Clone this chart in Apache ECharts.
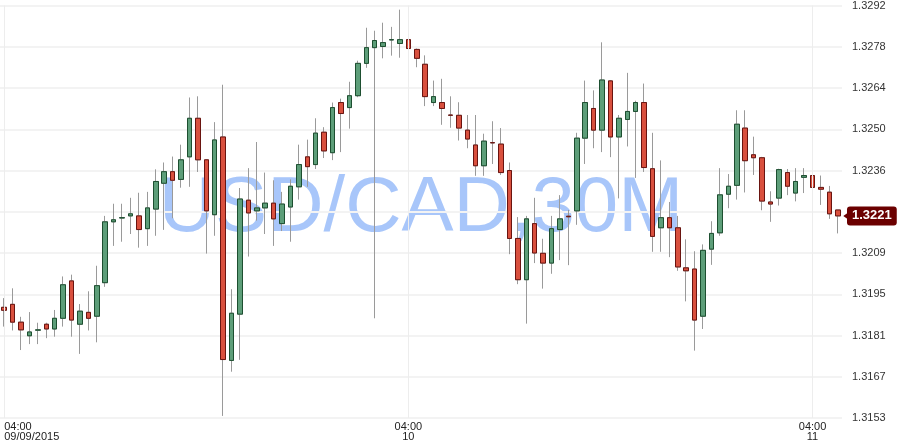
<!DOCTYPE html>
<html>
<head>
<meta charset="utf-8">
<script src="https://cdn.jsdelivr.net/npm/echarts@6/dist/echarts.min.js"></script>
<style>
html,body{margin:0;padding:0;background:#fff;}
#chart{width:900px;height:448px;}
</style>
</head>
<body>
<div id="chart"></div>
<script>
// USD/CAD 30-minute candles, starting 09/09/2015 04:00
var startTime = Date.UTC(2015, 8, 9, 4, 0);
var stepMinutes = 30;

var opens = [
1.31903,1.31913,1.31853,1.31807,1.31826,1.31846,1.31830,1.31866,1.31992,1.31846,
1.31886,1.31873,1.31986,1.32191,1.32204,1.32211,1.32211,1.32168,1.32234,1.32321,
1.32360,1.32334,1.32410,1.32540,1.32400,1.32215,1.32477,1.31724,1.31880,1.32264,
1.32228,1.32238,1.32254,1.32185,1.32241,1.32309,1.32410,1.32384,1.32493,1.32424,
1.32593,1.32576,1.32616,1.32725,1.32778,1.32782,1.32804,1.32792,1.32805,1.32772,
1.32722,1.32593,1.32593,1.32551,1.32550,1.32500,1.32450,1.32380,1.32458,1.32453,
1.32364,1.32135,1.31996,1.32185,1.32085,1.32052,1.32165,1.32210,1.32228,1.32473,
1.32573,1.32500,1.32666,1.32477,1.32536,1.32563,1.32593,1.32370,1.32171,1.32205,
1.32171,1.32036,1.32032,1.31873,1.32099,1.32154,1.32284,1.32314,1.32507,1.32417,
1.32407,1.32258,1.32271,1.32357,1.32288,1.32341,1.32347,1.32307,1.32291,1.32231
];
var closes = [
1.31893,1.31853,1.31827,1.31820,1.31827,1.31830,1.31866,1.31979,1.31860,1.31890,
1.31866,1.31976,1.32191,1.32198,1.32205,1.32218,1.32165,1.32238,1.32327,1.32360,
1.32331,1.32400,1.32540,1.32400,1.32228,1.32467,1.31727,1.31883,1.32268,1.32221,
1.32238,1.32254,1.32201,1.32251,1.32311,1.32384,1.32377,1.32490,1.32430,1.32576,
1.32556,1.32616,1.32725,1.32778,1.32802,1.32795,1.32805,1.32805,1.32775,1.32742,
1.32613,1.32613,1.32573,1.32550,1.32507,1.32470,1.32380,1.32463,1.32457,1.32357,
1.32135,1.31996,1.32201,1.32086,1.32052,1.32168,1.32201,1.32208,1.32473,1.32593,
1.32500,1.32669,1.32477,1.32540,1.32563,1.32593,1.32374,1.32142,1.32205,1.32171,
1.32039,1.32026,1.31860,1.32095,1.32152,1.32282,1.32311,1.32520,1.32397,1.32407,
1.32261,1.32251,1.32367,1.32311,1.32327,1.32347,1.32307,1.32301,1.32218,1.32211
];
var lows = [
1.31838,1.31825,1.31759,1.31779,1.31779,1.31799,1.31804,1.31838,1.31804,1.31746,
1.31825,1.31785,1.31972,1.32110,1.32124,1.32150,1.32104,1.32110,1.32144,1.32164,
1.32203,1.32306,1.32309,1.32359,1.32084,1.32144,1.31537,1.31686,1.31726,1.32074,
1.32195,1.32150,1.32110,1.32160,1.32124,1.32266,1.32309,1.32369,1.32406,1.32399,
1.32426,1.32505,1.32611,1.32710,1.31866,1.32742,1.32751,1.32744,1.32734,1.32712,
1.32581,1.32581,1.32518,1.32508,1.32465,1.32439,1.32346,1.32346,1.32386,1.32349,
1.32082,1.31981,1.31848,1.32052,1.31966,1.32016,1.32062,1.32045,1.32181,1.32386,
1.32439,1.32426,1.32409,1.32270,1.32445,1.32339,1.32359,1.32090,1.32090,1.32072,
1.32026,1.31923,1.31757,1.31830,1.32046,1.32144,1.32237,1.32266,1.32290,1.32349,
1.32230,1.32191,1.32246,1.32281,1.32260,1.32288,1.32281,1.32248,1.32201,1.32152
];
var highs = [
1.31934,1.31967,1.31871,1.31887,1.31851,1.31851,1.31894,1.32007,1.32013,1.31914,
1.31957,1.32043,1.32211,1.32252,1.32252,1.32272,1.32289,1.32292,1.32368,1.32391,
1.32411,1.32451,1.32610,1.32614,1.32402,1.32527,1.32653,1.31964,1.32305,1.32372,
1.32460,1.32357,1.32331,1.32292,1.32334,1.32451,1.32468,1.32540,1.32510,1.32593,
1.32606,1.32663,1.32734,1.32845,1.32835,1.32862,1.32848,1.32906,1.32842,1.32775,
1.32752,1.32667,1.32673,1.32614,1.32594,1.32551,1.32551,1.32488,1.32530,1.32507,
1.32391,1.32207,1.32211,1.32272,1.32134,1.32211,1.32281,1.32231,1.32491,1.32667,
1.32634,1.32796,1.32669,1.32551,1.32693,1.32599,1.32657,1.32491,1.32398,1.32258,
1.32211,1.32132,1.32092,1.32115,1.32193,1.32372,1.32352,1.32567,1.32567,1.32478,
1.32410,1.32294,1.32370,1.32369,1.32372,1.32372,1.32372,1.32347,1.32312,1.32231
];

var yMin = 1.3153;
var yMax = 1.3292;
var yStep = 0.00139;
var gridLineIndices = [0, 48, 96];
var watermarkText = 'USD/CAD,30M';

function pad(n){ return (n < 10 ? '0' : '') + n; }
var categories = [];
for (var i = 0; i < opens.length; i++) {
  var d = new Date(startTime + i * stepMinutes * 60000);
  categories.push(pad(d.getUTCDate()) + '/' + pad(d.getUTCMonth() + 1) + '/' + d.getUTCFullYear() + ' ' + pad(d.getUTCHours()) + ':' + pad(d.getUTCMinutes()));
}

var fullData = [], bodyData = [];
for (var i = 0; i < opens.length; i++) {
  fullData.push([opens[i], closes[i], lows[i], highs[i]]);
  bodyData.push([opens[i], closes[i], Math.min(opens[i], closes[i]), Math.max(opens[i], closes[i])]);
}
var lastIdx = opens.length - 1;
var lastClose = closes[lastIdx];

var FONT = 'Arial, "Liberation Sans", sans-serif';
var UP = '#5d9e79', DOWN = '#d9503e', UP_B = '#1d4f30', DOWN_B = '#6a1410', WICK = '#9a9a9a';

var chart = echarts.init(document.getElementById('chart'), null, {renderer: 'canvas'});
chart.setOption({
  animation: false,
  backgroundColor: '#ffffff',
  graphic: [{
    type: 'text', x: 421, y: 209, z: -10, silent: true,
    style: { text: watermarkText, font: '78px ' + FONT, fill: '#a8c6fa', textAlign: 'center', textVerticalAlign: 'middle' }
  }],
  grid: { left: -2, right: 58, top: -1, bottom: 30, containLabel: false },
  xAxis: {
    type: 'category',
    data: categories,
    boundaryGap: true,
    axisLine: { show: false },
    axisTick: { show: false },
    splitLine: { show: false },
    axisLabel: {
      interval: function (idx) { return gridLineIndices.indexOf(idx) >= 0; },
      alignMinLabel: 'left',
      margin: 4,
      color: '#222',
      fontFamily: FONT,
      fontSize: 11,
      lineHeight: 10,
      formatter: function (val, idx) {
        var parts = val.split(' ');
        if (idx === 0) return parts[1] + '\n' + parts[0];
        return parts[1] + '\n' + String(parseInt(parts[0].split('/')[0], 10));
      }
    }
  },
  yAxis: {
    type: 'value',
    position: 'right',
    min: yMin, max: yMax, interval: yStep,
    scale: true,
    axisLine: { show: false },
    axisTick: { show: false },
    splitLine: { show: true, lineStyle: { color: '#f3f3f3', width: 2 } },
    axisLabel: {
      margin: 10, color: '#333', fontFamily: FONT, fontSize: 11,
      formatter: function (v) { return v.toFixed(4); }
    }
  },
  series: [
    {
      type: 'line', data: [], z: 0, silent: true,
      markLine: {
        silent: true, symbol: 'none', animation: false,
        label: { show: false },
        lineStyle: { color: '#ededed', width: 1, type: 'solid' },
        data: gridLineIndices.map(function (k) { return { xAxis: categories[k] }; })
      }
    },
    {
      type: 'candlestick', data: fullData, barWidth: 5, z: 2,
      itemStyle: { color: UP, color0: DOWN, borderColor: WICK, borderColor0: WICK, borderWidth: 1 }
    },
    {
      type: 'candlestick', data: bodyData, barWidth: 5, z: 3,
      itemStyle: { color: UP, color0: DOWN, borderColor: UP_B, borderColor0: DOWN_B, borderWidth: 1 },
      markPoint: {
        silent: true, animation: false,
        symbol: 'triangle', symbolRotate: 90, symbolSize: [7, 5], symbolOffset: [8, 0],
        itemStyle: { color: '#6b0000' },
        label: { show: false },
        data: [{ coord: [categories[lastIdx], lastClose] }]
      }
    },
    {
      type: 'line', data: [], z: 10, silent: true,
      markLine: {
        silent: true, symbol: 'none', animation: false, precision: 5,
        lineStyle: { color: 'rgba(0,0,0,0)', width: 0 },
        label: {
          show: true, position: 'end', distance: 5,
          formatter: function () { return lastClose.toFixed(4); },
          color: '#ffffff', fontWeight: 'bold', fontSize: 13, fontFamily: FONT,
          backgroundColor: '#6b0000', borderRadius: 3, padding: [3, 5, 3, 5]
        },
        data: [{ yAxis: lastClose }]
      }
    }
  ]
});
</script>
</body>
</html>
